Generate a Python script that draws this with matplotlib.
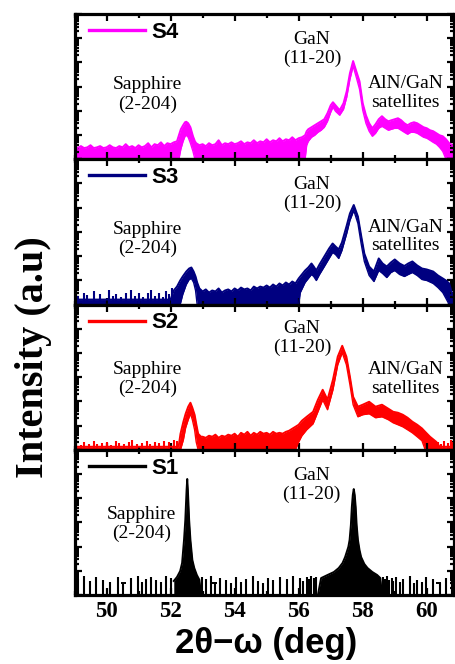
import numpy as np
import matplotlib
matplotlib.use("Agg")
import matplotlib.pyplot as plt
from matplotlib.ticker import MultipleLocator, LogLocator, NullFormatter
from matplotlib.transforms import blended_transform_factory
from matplotlib.font_manager import FontProperties

# ---------------- data (2theta in deg, intensity in a.u., log axis) ----------------
FLOOR = 1.0  # zero-count level = bottom of every panel

# S4
s4_x = [49.0, 49.1, 49.2, 49.3, 49.4, 49.5, 49.6, 49.7, 49.8, 49.9,
        50.0, 50.1, 50.2, 50.3, 50.4, 50.5, 50.6, 50.7, 50.8, 50.9,
        51.0, 51.1, 51.2, 51.3, 51.4, 51.5, 51.6, 51.7, 51.8, 51.9,
        52.0, 52.1, 52.2,
        52.26, 52.32, 52.39, 52.45, 52.49, 52.55, 52.62, 52.7, 52.76, 52.8,
        52.9, 53.0, 53.1, 53.2, 53.3, 53.4, 53.5, 53.6, 53.7, 53.8, 53.9,
        54.0, 54.1, 54.2, 54.3, 54.4, 54.5, 54.6, 54.7, 54.8, 54.9,
        55.0, 55.1, 55.2, 55.3, 55.4, 55.5, 55.6, 55.7, 55.8, 55.9,
        56.0, 56.1, 56.2,
        56.25, 56.3, 56.4, 56.5, 56.6, 56.7, 56.8, 56.9, 57.0, 57.07,
        57.15, 57.28, 57.4, 57.5, 57.6, 57.7, 57.8, 57.9, 58.0, 58.1,
        58.2, 58.3, 58.4, 58.5, 58.6, 58.7, 58.8, 58.9, 59.0, 59.1,
        59.2, 59.3, 59.4, 59.5, 59.6, 59.7, 59.8, 59.9, 60.0, 60.1,
        60.2, 60.3, 60.4, 60.5, 60.6, 60.7, 60.8, 60.85]
s4_hi = [3.1, 2.9, 3.5, 2.9, 3.1, 3.8, 2.9, 3.1, 3.5, 2.9,
         3.1, 3.8, 3.1, 2.9, 3.5, 3.1, 4.2, 3.1, 3.5, 2.9,
         3.8, 3.1, 3.5, 4.6, 3.1, 4.2, 3.8, 5.0, 3.5, 4.6,
         4.2, 5.0, 5.5,
         9.8, 17.4, 25.4, 33.8, 35.4, 30.7, 21, 8.9, 5.5, 4.6,
         3.8, 4.2, 3.45, 4.6, 3.8, 4.2, 6.1, 3.8, 4.6, 4.2, 5.0,
         4.2, 4.6, 5.5, 4.2, 5.0, 4.6, 6.1, 4.6, 5.5, 5.0,
         6.7, 5.0, 6.1, 5.5, 7.4, 5.5, 6.7, 6.1, 8.1, 6.1,
         7.4, 8.1, 9.8,
         14.4, 17.4, 21, 25.4, 30.7, 37, 45, 80, 170, 227,
         170, 106, 206, 647, 3570, 11400, 4300, 1660, 206, 66,
         30.7, 19.1, 28, 45, 60, 45, 37, 41, 45, 49.5,
         41, 30.7, 25.4, 30.7, 33.8, 30.7, 25.4, 21, 19.1, 15.8,
         14.4, 11.9, 9.8, 8.9, 6.7, 4.6, 3.8, 3.45]
s4_lo = [1] * 33 + \
        [1, 2.6, 5.5, 8.9, 9.8, 8.1, 4.6, 2.1, 1, 1] + \
        [1] * 34 + \
        [3.8, 5.5, 8.1, 9.8, 13, 15.8, 21, 37, 87.5, 141,
         96, 66, 116, 365, 2000, 7000, 2400, 780, 106, 30.7,
         14.4, 8.9, 11.9, 19.1, 23, 19.1, 15.8, 17.4, 19.1, 19.1,
         15.8, 13, 10.8, 13, 13, 11.9, 9.8, 8.1, 7.4, 6.1,
         5.0, 4.2, 3.1, 2.1, 1, 1, 1, 1]

# S3
s3_x = [49.0, 52.0, 52.1, 52.2, 52.3, 52.38, 52.49, 52.58, 52.65, 52.72, 52.78, 52.83, 52.9,
        53.0, 53.1, 53.2, 53.3, 53.4, 53.5, 53.6, 53.7, 53.8, 53.9,
        54.0, 54.1, 54.2, 54.3, 54.4, 54.5, 54.6, 54.7, 54.8, 54.9,
        55.0, 55.1, 55.2, 55.3, 55.4, 55.5, 55.6, 55.7, 55.8, 55.9,
        56.0, 56.05, 56.2, 56.3, 56.4, 56.47, 56.55, 56.65, 56.8, 56.95,
        57.06, 57.15, 57.25, 57.35, 57.5, 57.6, 57.72, 57.85, 57.95, 58.05,
        58.2, 58.35, 58.5, 58.62, 58.75, 58.88, 59.0, 59.15, 59.3, 59.42,
        59.55, 59.7, 59.85, 60.0, 60.2, 60.35, 60.5, 60.6, 60.7, 60.78, 60.85]
s3_hi = [1.6, 1.6, 3.8, 5.5, 9.8, 14.4, 23, 30.7, 33.8, 23, 14.4, 8.1, 4.6,
         3.45, 4.2, 3.1, 3.8, 3.45, 4.6, 3.1, 3.8, 4.2, 3.45,
         4.6, 3.8, 5.0, 4.2, 4.6, 3.8, 5.5, 4.6, 5.5, 5.0,
         6.1, 5.0, 6.7, 5.5, 7.4, 6.1, 8.1, 6.7, 8.9, 7.4,
         11.9, 14.4, 25.4, 33.8, 49.5, 37, 25.4, 45, 96, 206,
         331, 250, 188, 365, 1830, 5760, 12900, 4300, 710, 128,
         37, 23, 80, 49.5, 37, 54.5, 72.5, 49.5, 39, 49.5,
         60, 41, 30.7, 28, 23, 15.8, 11.9, 9.8, 7.4, 3.1, 2.1]
s3_lo = [1, 1, 1, 1, 1, 2.6, 6.7, 10.8, 11.9, 8.1, 3.8, 1, 1] + \
        [1] * 30 + \
        [1, 3.1, 8.1, 11.9, 17.4, 14.4, 9.8, 17.4, 37, 80,
         141, 116, 80, 170, 860, 2960, 7700, 2220, 331, 60,
         15.8, 8.9, 25.4, 19.1, 13, 21, 25.4, 17.4, 14.4, 17.4,
         21, 15.8, 10.8, 9.8, 7.4, 5.0, 3.1, 1.77, 1, 1, 1]
s3_spike_x = [49.1, 49.3, 49.4, 49.6, 49.8, 50.07, 50.2, 50.3, 50.45, 50.6, 50.75,
              50.9, 51.0, 51.15, 51.3, 51.4, 51.5, 51.65, 51.75, 51.85, 51.95, 52.05]
s3_spike_y = [2.35, 2.85, 2.5, 3.45, 2.6, 4.0, 2.35, 2.6, 2.1, 3.1, 3.8,
              2.35, 2.85, 2.1, 3.1, 3.8, 2.35, 2.85, 2.1, 3.45, 2.6, 4.6]

# S2
s2_x = [49.0, 52.25, 52.31, 52.4, 52.47, 52.55, 52.62, 52.68, 52.75, 52.8, 52.86, 52.95,
        53.0, 53.1, 53.2, 53.3, 53.4, 53.5, 53.6, 53.7, 53.8, 53.9,
        54.0, 54.1, 54.2, 54.3, 54.4, 54.5, 54.6, 54.7, 54.8, 54.9,
        55.0, 55.1, 55.2, 55.3, 55.4, 55.5, 55.6, 55.7, 55.8,
        55.9, 56.0, 56.1, 56.25, 56.45, 56.6, 56.75, 56.9, 57.07, 57.22,
        57.36, 57.49, 57.6, 57.7, 57.85, 58.0, 58.2, 58.4, 58.6, 58.8,
        58.95, 59.1, 59.25, 59.4, 59.55, 59.7, 59.85, 59.95, 60.1, 60.3,
        60.4, 60.85]
s2_hi = [1.33, 1.33, 4.6, 14.4, 30.7, 60, 87.5, 54.5, 28, 11.9, 4.6, 3.45,
         3.45, 3.1, 3.8, 3.45, 4.2, 3.1, 3.8, 3.45, 4.2, 3.8,
         4.6, 3.45, 5.0, 4.2, 5.5, 3.8, 5.0, 4.2, 5.5, 4.6,
         5.0, 4.2, 5.5, 4.6, 5.0, 4.6, 5.5, 6.1, 7.4,
         8.9, 10.8, 15.8, 23, 37, 116, 300, 116, 780, 7000,
         19700, 7000, 1040, 155, 60, 72.5, 96, 60, 72.5, 49.5,
         37, 33.8, 28, 21, 14.4, 10.8, 7.6, 5.5, 3.45, 2.1,
         1.33, 1.33]
s2_lo = [1, 1, 1, 2.6, 8.1, 17.4, 30.7, 17.4, 6.7, 2.1, 1, 1] + \
        [1] * 29 + \
        [1, 2.1, 3.8, 6.7, 11.9, 37, 116, 45, 300, 3250,
         10200, 3250, 487, 72.5, 23, 28, 30.7, 21, 23, 17.4,
         13, 10.8, 8.9, 6.7, 5.0, 3.45, 2.35, 1, 1, 1,
         1, 1]
s2_spike_x = [49.05, 49.2, 49.3, 49.45, 49.6, 49.7, 49.85, 50.0, 50.15, 50.3, 50.4, 50.55,
              50.7, 50.8, 50.95, 51.1, 51.25, 51.35, 51.5, 51.65, 51.8, 51.95, 52.1, 52.2,
              60.35, 60.45, 60.55, 60.65, 60.75, 60.82]
s2_spike_y = [1.95, 1.6, 2.1, 1.77, 2.35, 1.77, 1.95, 2.1, 1.6, 2.35, 1.95, 1.77,
              2.1, 2.6, 1.77, 1.95, 2.35, 1.77, 2.1, 1.95, 2.35, 2.1, 2.6, 2.35,
              2.1, 1.77, 2.35, 1.95, 2.6, 2.1]

# S1
s1_x = [52.10, 52.20, 52.30, 52.36, 52.42, 52.46, 52.48, 52.50, 52.52, 52.54,
        52.56, 52.58, 52.62, 52.68, 52.74, 52.82, 52.90, 52.95,
        56.60, 56.70, 56.90, 57.10, 57.25, 57.37, 57.45, 57.55, 57.59, 57.63,
        57.66, 57.69, 57.72, 57.75, 57.78, 57.81, 57.85, 57.90, 57.95, 58.05,
        58.15, 58.30, 58.45, 58.55, 58.60]
s1_hi = [3.8, 5.5, 9.8, 21, 188, 1250, 5300, 21700, 62000, 21700,
         5300, 1250, 188, 28, 13, 6.7, 4.2, 1,
         1, 5.0, 6.7, 8.9, 13, 21, 37, 96, 188, 780,
         4300, 13600, 23800, 13600, 4300, 780, 188, 72.5, 37, 19.1,
         13, 8.9, 6.7, 5.0, 1]
s1_lo = [1] * 18 + [1] * 25
s1_spike_x = [49.10, 49.31, 49.47, 49.68, 49.89, 50.10, 50.35, 50.52, 50.77, 50.98,
              51.10, 51.24, 51.40, 51.55, 51.70, 51.86, 52.02,
              52.98, 53.11, 53.27, 53.40, 53.53, 53.74, 53.90, 54.05, 54.20, 54.36,
              54.57, 54.73, 54.90, 55.04, 55.20, 55.41, 55.62, 55.82, 56.03, 56.15,
              56.25, 56.33, 56.40, 56.47, 56.55, 58.64, 58.70, 58.76, 58.83, 58.90,
              58.96, 59.05, 59.15, 59.26, 59.47, 59.60, 59.68, 59.85, 59.99, 60.20,
              60.40, 60.61, 60.78]
s1_spike_y = [4.6, 6.1, 3.8, 5.5, 4.2, 3.45, 5.5, 3.1, 5.0, 6.1,
              3.45, 4.6, 5.5, 4.2, 3.45, 6.1, 5.0,
              5.5, 4.6, 6.1, 3.45, 5.0, 4.2, 3.1, 5.5, 3.45, 4.6,
              6.1, 3.8, 3.1, 5.0, 4.2, 5.5, 4.6, 6.1, 5.0, 3.8,
              5.5, 4.6, 6.1, 5.0, 5.5, 5.5, 4.6, 6.1, 4.2, 5.0,
              3.8, 5.5, 3.45, 4.6, 6.1, 3.1, 4.2, 3.45, 5.5, 4.6,
              3.1, 5.0, 3.8]
s1_dash_start = [50.45, 53.30, 60.30]
s1_dash_end = [50.60, 53.45, 60.45]
s1_dash_level = 3.1

samples = ["S4", "S3", "S2", "S1"]
colors = ["#FF00FF", "#000080", "#FF0000", "#000000"]
x_ticks = [50, 52, 54, 56, 58, 60]

# ---------------- figure ----------------
W, H = 456, 664
fig = plt.figure(figsize=(W / 100, H / 100), dpi=100)

left_px, right_px, top_px, bottom_px = 74.5, 454.0, 14.0, 595.0
panel_h = (bottom_px - top_px) / 4

serif = "Liberation Serif"
sans = "Liberation Sans"

series = [
    (s4_x, s4_hi, s4_lo, None, None),
    (s3_x, s3_hi, s3_lo, s3_spike_x, s3_spike_y),
    (s2_x, s2_hi, s2_lo, s2_spike_x, s2_spike_y),
    (s1_x, s1_hi, s1_lo, s1_spike_x, s1_spike_y),
]

# annotation blocks: (x in deg, y as axes fraction, text)
notes = [
    [(51.27, 0.446, "Sapphire\n(2-204)"), (56.42, 0.757, "GaN\n(11-20)"),
     (59.33, 0.454, "AlN/GaN\nsatellites")],
    [(51.27, 0.451, "Sapphire\n(2-204)"), (56.42, 0.759, "GaN\n(11-20)"),
     (59.33, 0.468, "AlN/GaN\nsatellites")],
    [(51.27, 0.487, "Sapphire\n(2-204)"), (56.10, 0.767, "GaN\n(11-20)"),
     (59.33, 0.487, "AlN/GaN\nsatellites")],
    [(51.09, 0.487, "Sapphire\n(2-204)"), (56.41, 0.758, "GaN\n(11-20)")],
]

for i, (name, col, (x, hi, lo, sx, sy)) in enumerate(zip(samples, colors, series)):
    top_i = top_px + i * panel_h
    ax = fig.add_axes([left_px / W, 1 - (top_i + panel_h) / H,
                       (right_px - left_px) / W, panel_h / H])

    ax.set_yscale("log")
    x = np.asarray(x)
    hi = np.asarray(hi, dtype=float)
    lo = np.asarray(lo, dtype=float)
    ax.fill_between(x, lo, hi, color=col, lw=0)
    ax.plot(x, hi, color=col, lw=1.4, label=name)
    ax.plot(x, lo, color=col, lw=1.0)
    if sx is not None:
        ax.vlines(sx, FLOOR, sy, color=col, lw=1.5)
    if name == "S1":
        ax.hlines([s1_dash_level] * len(s1_dash_start), s1_dash_start, s1_dash_end,
                  color=col, lw=1.4)

    ax.set_xlim(49, 60.85)
    ax.set_ylim(1, 1e6)

    ax.xaxis.set_major_locator(MultipleLocator(2))
    ax.xaxis.set_minor_locator(MultipleLocator(1))
    ax.yaxis.set_major_locator(LogLocator(base=10, numticks=12))
    ax.yaxis.set_minor_locator(LogLocator(base=10, subs=np.arange(2, 10), numticks=12))
    ax.yaxis.set_major_formatter(NullFormatter())
    ax.yaxis.set_minor_formatter(NullFormatter())
    ax.tick_params(which="both", direction="in", top=True, right=True, width=1.6)
    ax.tick_params(which="major", length=5)
    ax.tick_params(which="minor", length=3)
    for sp in ax.spines.values():
        sp.set_linewidth(2.3)

    if i < 3:
        ax.tick_params(labelbottom=False)
    else:
        ax.set_xticks(x_ticks)
        ax.set_xticklabels([str(t) for t in x_ticks],
                           fontproperties=FontProperties(family=serif, weight="bold", size=16.5))
        ax.tick_params(axis="x", which="major", pad=4)

    leg = ax.legend(loc="upper left", bbox_to_anchor=(0.018, 1.0), frameon=False,
                    handlelength=2.5, handletextpad=0.3, borderaxespad=0.15, borderpad=0.2,
                    prop=FontProperties(family=sans, weight="bold", size=16))
    for ln in leg.get_lines():
        ln.set_linewidth(2.4)

    tr = blended_transform_factory(ax.transData, ax.transAxes)
    for nx, ny, txt in notes[i]:
        ax.text(nx, ny, txt, transform=tr, ha="center", va="center",
                multialignment="center", fontsize=14, family=serif, linespacing=1.15)

fig.text(34 / W, 1 - 357 / H, "Intensity (a.u)", rotation=90, ha="center", va="center",
         fontsize=29, family=serif, weight="bold")
fig.text(266 / W, 1 - 643 / H, "2θ\u2212ω (deg)", ha="center", va="center",
         fontsize=25, family=[sans, "DejaVu Sans"], weight="bold")

fig.savefig("out.png", dpi=100)
